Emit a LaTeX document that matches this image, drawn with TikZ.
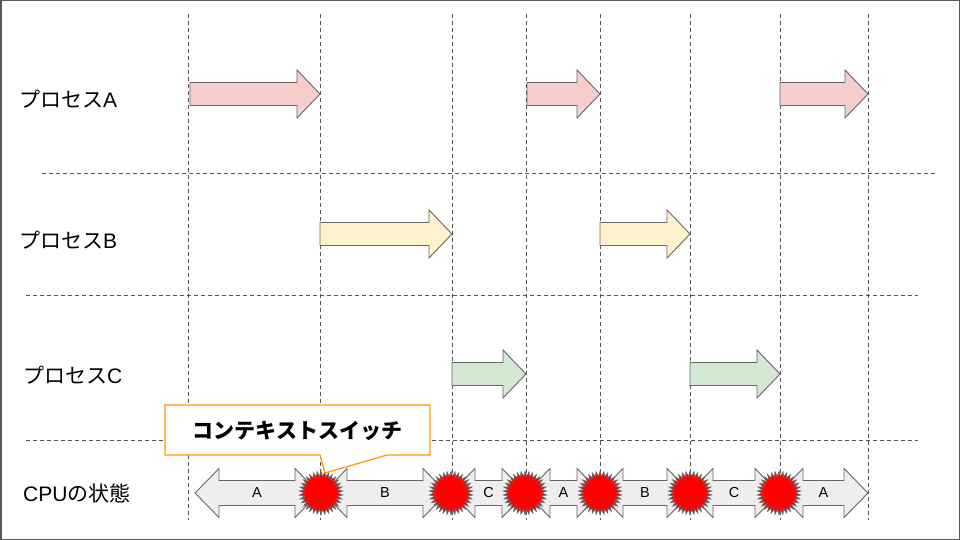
\documentclass[tikz,border=0pt]{standalone}
\usepackage{fontspec}
\setmainfont{Liberation Sans}
\newfontfamily\jp{Noto Sans CJK JP}
\usetikzlibrary{shapes.geometric}
\definecolor{pinkA}{HTML}{F8CECC}
\definecolor{yellowB}{HTML}{FFF2CC}
\definecolor{greenC}{HTML}{D5E8D4}
\definecolor{cpugray}{HTML}{EEEEEE}
\definecolor{edgegray}{HTML}{666666}
\definecolor{guidegray}{HTML}{555555}
\definecolor{callorange}{HTML}{FF9900}
\definecolor{framegray}{HTML}{595959}
\newcommand\procarrow[5]{% name, x1, x2, yc, colour
  \draw[procline, fill=#5] (#2,#4-11.5) -- (#3-23,#4-11.5) -- (#3-23,#4-24) -- (#3,#4)
    -- (#3-23,#4+24) -- (#3-23,#4+11.5) -- (#2,#4+11.5) -- cycle;
  \coordinate (#1) at ({(#2+#3)/2},#4);}
\newcommand\cpuarrow[5]{% name, x1, x2, yc, label
  \draw[procline, fill=cpugray] (#2,#4) -- (#2+24,#4-24.5) -- (#2+24,#4-12.5) -- (#3-24,#4-12.5)
    -- (#3-24,#4-24.5) -- (#3,#4) -- (#3-24,#4+24.5) -- (#3-24,#4+12.5) -- (#2+24,#4+12.5)
    -- (#2+24,#4+24.5) -- cycle;
  \node[cpulbl] (#1) at ({(#2+#3)/2},#4) {#5};}
\begin{document}
\begin{tikzpicture}[x=1pt,y=-1pt,
  guide/.style={guidegray, line width=0.8pt, dash pattern=on 4pt off 3pt},
  procline/.style={edgegray, line width=0.9pt, line join=miter},
  rowlbl/.style={anchor=west, inner sep=0pt, font=\fontsize{21}{25}\selectfont},
  cpulbl/.style={inner sep=0pt, font=\fontsize{14.5}{17}\selectfont},
  burst/.style={star, star points=34, star point ratio=1.3, minimum size=43pt, inner sep=0pt,
    fill=red, draw=edgegray, line width=0.8pt}]
\useasboundingbox (0,0) rectangle (960,540);
\draw[framegray, line width=3pt] (0,0) rectangle (960,540);
% guides
\foreach \x in {188,320,452,526,600,690,780,868} \draw[guide] (\x,14) -- (\x,520);
\draw[guide] (42,173) -- (936,173);
\draw[guide] (26,295) -- (918,295);
\draw[guide] (26,440) -- (918,440);
% labels
\node[rowlbl] (la) at (19,99) {{\jp プロセス}A};
\node[rowlbl] (lb) at (19,240) {{\jp プロセス}B};
\node[rowlbl] (lc) at (23,375) {{\jp プロセス}C};
\node[rowlbl] (lcpu) at (23,493) {CPU{\jp の状態}};
% process arrows
\procarrow{a1}{190}{320}{94}{pinkA}
\procarrow{a2}{527}{600}{94}{pinkA}
\procarrow{a3}{780}{868}{94}{pinkA}
\procarrow{b1}{320}{452}{234}{yellowB}
\procarrow{b2}{600}{690}{234}{yellowB}
\procarrow{c1}{452}{526}{374}{greenC}
\procarrow{c2}{690}{780}{374}{greenC}
% CPU row
\cpuarrow{cA1}{195}{319}{493}{A}
\cpuarrow{cB1}{323}{447}{493}{B}
\cpuarrow{cC1}{451}{526}{493}{C}
\cpuarrow{cA2}{526}{601}{493}{A}
\cpuarrow{cB2}{599}{691}{493}{B}
\cpuarrow{cC2}{689}{779}{493}{C}
\cpuarrow{cA3}{779}{868}{493}{A}
\foreach \n/\x in {s1/321,s2/451,s3/525,s4/600,s5/690,s6/779}
  \node[burst] (\n) at (\x,493) {};
% callout
\draw[callorange, line width=1.2pt, fill=white, line join=miter]
  (165,405) -- (430,405) -- (430,455) -- (387,455) -- (325,473) -- (320,455) -- (165,455) -- cycle;
\node[inner sep=0pt, font=\fontsize{21}{24}\selectfont\jp\bfseries] (ctx) at (297.5,431) {コンテキストスイッチ};
\end{tikzpicture}
\end{document}
